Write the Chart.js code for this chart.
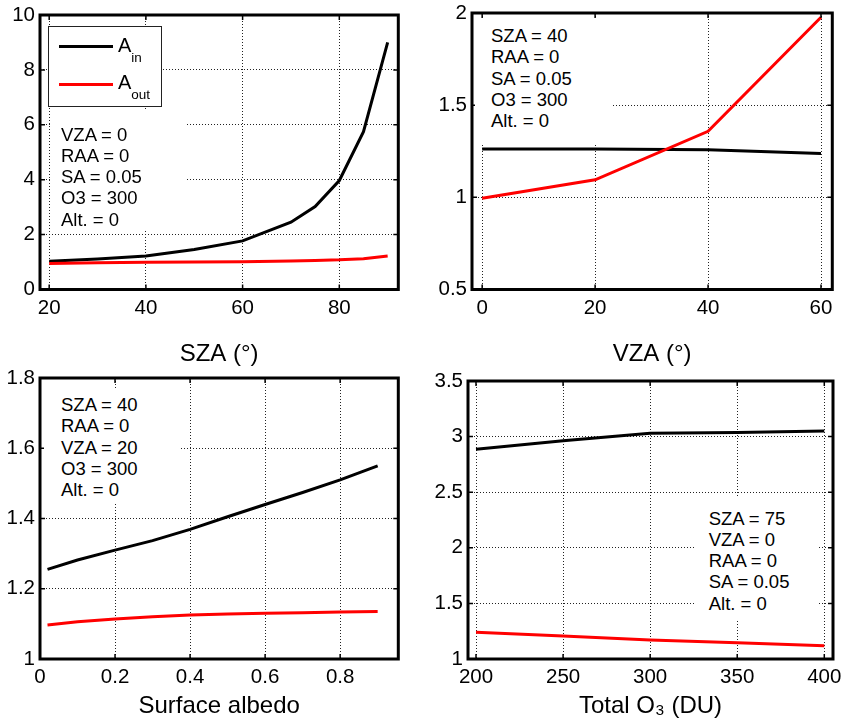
<!DOCTYPE html>
<html>
<head>
<meta charset="utf-8">
<script src="https://cdn.jsdelivr.net/npm/chart.js@4/dist/chart.umd.min.js"></script>
<style>
  body { margin: 0; background: #fff; }
  #wrap { position: relative; width: 846px; height: 725px; overflow: hidden; font-family: "Liberation Sans", Arial, sans-serif; color: #000; }
  canvas { position: absolute; }
  .note { position: absolute; background: #fff; font-size: 18.5px; line-height: 21.3px; white-space: pre; box-sizing: border-box; }
  #legend { position: absolute; left: 48px; top: 26px; width: 114px; height: 81px; border: 1px solid #222; background: #fff; box-sizing: border-box; }
  #legend .sw { position: absolute; left: 10px; width: 54px; height: 3px; }
  #legend .lab { position: absolute; left: 69px; font-size: 20px; line-height: 20px; white-space: nowrap; }
  #legend sub { font-size: 13.5px; vertical-align: -10px; line-height: 0; }
</style>
</head>
<body>
<div id="wrap">
  <canvas id="c1" width="423" height="370" style="left:0;top:0"></canvas>
  <canvas id="c2" width="423" height="370" style="left:423px;top:0"></canvas>
  <canvas id="c3" width="423" height="355" style="left:0;top:370px"></canvas>
  <canvas id="c4" width="423" height="355" style="left:423px;top:370px"></canvas>

  <div id="legend">
    <div class="sw" style="top:18px;background:#000"></div>
    <div class="lab" style="top:8px">A<sub>in</sub></div>
    <div class="sw" style="top:56px;background:#ff0000"></div>
    <div class="lab" style="top:45px">A<sub>out</sub></div>
  </div>

  <div class="note" style="left:52px;top:110px;width:133px;height:120px;padding:13.5px 0 0 9px">VZA = 0
RAA = 0
SA = 0.05
O3 = 300
Alt. = 0</div>
  <div class="note" style="left:475px;top:19px;width:138px;height:124px;padding:6px 0 0 16px">SZA = 40
RAA = 0
SA = 0.05
O3 = 300
Alt. = 0</div>
  <div class="note" style="left:44px;top:390px;width:136px;height:113px;padding:4px 0 0 17px">SZA = 40
RAA = 0
VZA = 20
O3 = 300
Alt. = 0</div>
  <div class="note" style="left:696px;top:497px;width:122px;height:123px;padding:10.5px 0 0 12.7px">SZA = 75
VZA = 0
RAA = 0
SA = 0.05
Alt. = 0</div>
</div>

<script>
// --- DATA ---
// panel a: vs solar zenith angle
const szaX    = [20, 30, 40, 50, 60, 70, 75, 80, 85, 90];
const szaAin  = [1.03, 1.11, 1.22, 1.46, 1.77, 2.45, 3.02, 3.97, 5.75, 9.0];
const szaAout = [0.95, 0.97, 0.99, 1.0, 1.01, 1.04, 1.06, 1.08, 1.12, 1.22];
const szaXTicks = [20, 40, 60, 80];
const szaYTicks = [0, 2, 4, 6, 8, 10];

// panel b: vs viewing zenith angle
const vzaX    = [0, 20, 40, 60];
const vzaAin  = [1.262, 1.262, 1.258, 1.238];
const vzaAout = [0.995, 1.095, 1.358, 1.977];
const vzaXTicks = [0, 20, 40, 60];
const vzaYTicks = [0.5, 1, 1.5, 2];

// panel c: vs surface albedo
const albedoX    = [0.02, 0.1, 0.2, 0.3, 0.4, 0.5, 0.6, 0.7, 0.8, 0.9];
const albedoAin  = [1.255, 1.282, 1.31, 1.337, 1.369, 1.405, 1.44, 1.474, 1.51, 1.55];
const albedoAout = [1.097, 1.106, 1.114, 1.12, 1.125, 1.128, 1.13, 1.132, 1.134, 1.135];
const albedoXTicks = [0, 0.2, 0.4, 0.6, 0.8];
const albedoYTicks = [1, 1.2, 1.4, 1.6, 1.8];

// panel d: vs total ozone
const o3X    = [200, 250, 300, 350, 400];
const o3Ain  = [2.886, 2.963, 3.03, 3.037, 3.05];
const o3Aout = [1.24, 1.207, 1.17, 1.147, 1.12];
const o3XTicks = [200, 250, 300, 350, 400];
const o3YTicks = [1, 1.5, 2, 2.5, 3, 3.5];

const FONT = "'Liberation Sans', Arial, sans-serif";

// MATLAB style box + inward ticks on all four sides
const framePlugin = {
  id: 'frame',
  afterDatasetsDraw(chart) {
    const {ctx, chartArea: a, scales: {x, y}} = chart;
    ctx.save();
    ctx.strokeStyle = '#000';
    ctx.lineWidth = 1.5;
    ctx.beginPath();
    x.ticks.forEach(t => {
      const px = x.getPixelForValue(t.value);
      ctx.moveTo(px, a.bottom); ctx.lineTo(px, a.bottom - 5);
      ctx.moveTo(px, a.top); ctx.lineTo(px, a.top + 5);
    });
    y.ticks.forEach(t => {
      const py = y.getPixelForValue(t.value);
      ctx.moveTo(a.left, py); ctx.lineTo(a.left + 5, py);
      ctx.moveTo(a.right, py); ctx.lineTo(a.right - 5, py);
    });
    ctx.stroke();
    ctx.lineWidth = 3;
    ctx.strokeRect(a.left, a.top, a.right - a.left, a.bottom - a.top);
    ctx.restore();
  }
};

function toPoints(xs, ys) {
  return xs.map((v, i) => ({x: v, y: ys[i]}));
}

function makePanel(id, p) {
  const ctx = document.getElementById(id).getContext('2d');
  new Chart(ctx, {
    type: 'line',
    data: {
      datasets: [
        { label: 'A_in', data: toPoints(p.xs, p.ain), borderColor: '#000', borderWidth: 3, pointRadius: 0, tension: 0, order: 1 },
        { label: 'A_out', data: toPoints(p.xs, p.aout), borderColor: '#ff0000', borderWidth: 3, pointRadius: 0, tension: 0, order: 0 }
      ]
    },
    options: {
      responsive: false,
      animation: false,
      layout: { padding: p.pad },
      plugins: { legend: { display: false }, tooltip: { enabled: false } },
      scales: {
        x: {
          type: 'linear',
          min: p.xMin, max: p.xMax,
          afterBuildTicks: s => { s.ticks = p.xTicks.map(v => ({value: v})); },
          afterFit: s => { s.height = p.xH; s.paddingLeft = 0; s.paddingRight = 0; },
          grid: { color: '#222', lineWidth: 1, drawTicks: false },
          border: { display: false, dash: [1, 2] },
          ticks: { color: '#000', padding: 8.5, maxRotation: 0, autoSkip: false,
                   font: { family: FONT, size: 20.5, lineHeight: 1 }, callback: v => String(v) },
          title: { display: true, text: p.xTitle, color: '#000',
                   font: { family: FONT, size: 24, lineHeight: 1 }, padding: { top: 0, bottom: p.titlePad } }
        },
        y: {
          type: 'linear',
          min: p.yMin, max: p.yMax,
          afterBuildTicks: s => { s.ticks = p.yTicks.map(v => ({value: v})); },
          afterFit: s => { s.width = p.yW; s.paddingTop = 0; s.paddingBottom = 0; },
          grid: { color: '#222', lineWidth: 1, drawTicks: false },
          border: { display: false, dash: [1, 2] },
          ticks: { color: '#000', padding: 5, autoSkip: false,
                   font: { family: FONT, size: 20.5, lineHeight: 1 }, callback: v => String(v) }
        }
      }
    },
    plugins: [framePlugin]
  });
}

makePanel('c1', {
  xs: szaX, ain: szaAin, aout: szaAout, xTicks: szaXTicks, yTicks: szaYTicks,
  xMin: 18.1, xMax: 92.2, yMin: 0, yMax: 10, xTitle: 'SZA (°)',
  pad: { left: 0, top: 15, right: 24.7, bottom: 0 }, yW: 40, xH: 80.5, titlePad: 4
});
makePanel('c2', {
  xs: vzaX, ain: vzaAin, aout: vzaAout, xTicks: vzaXTicks, yTicks: vzaYTicks,
  xMin: -1.8, xMax: 62, yMin: 0.5, yMax: 2, xTitle: 'VZA (°)',
  pad: { left: 0, top: 13, right: 13.7, bottom: 0 }, yW: 49, xH: 80.5, titlePad: 4
});
makePanel('c3', {
  xs: albedoX, ain: albedoAin, aout: albedoAout, xTicks: albedoXTicks, yTicks: albedoYTicks,
  xMin: 0, xMax: 0.955, yMin: 1, yMax: 1.8, xTitle: 'Surface albedo',
  pad: { left: 0, top: 8, right: 24.7, bottom: 0 }, yW: 40, xH: 66, titlePad: 7
});
makePanel('c4', {
  xs: o3X, ain: o3Ain, aout: o3Aout, xTicks: o3XTicks, yTicks: o3YTicks,
  xMin: 195.4, xMax: 405, yMin: 1, yMax: 3.5, xTitle: 'Total O₃ (DU)',
  pad: { left: 0, top: 11, right: 13, bottom: 0 }, yW: 45, xH: 66, titlePad: 7
});
</script>
</body>
</html>
